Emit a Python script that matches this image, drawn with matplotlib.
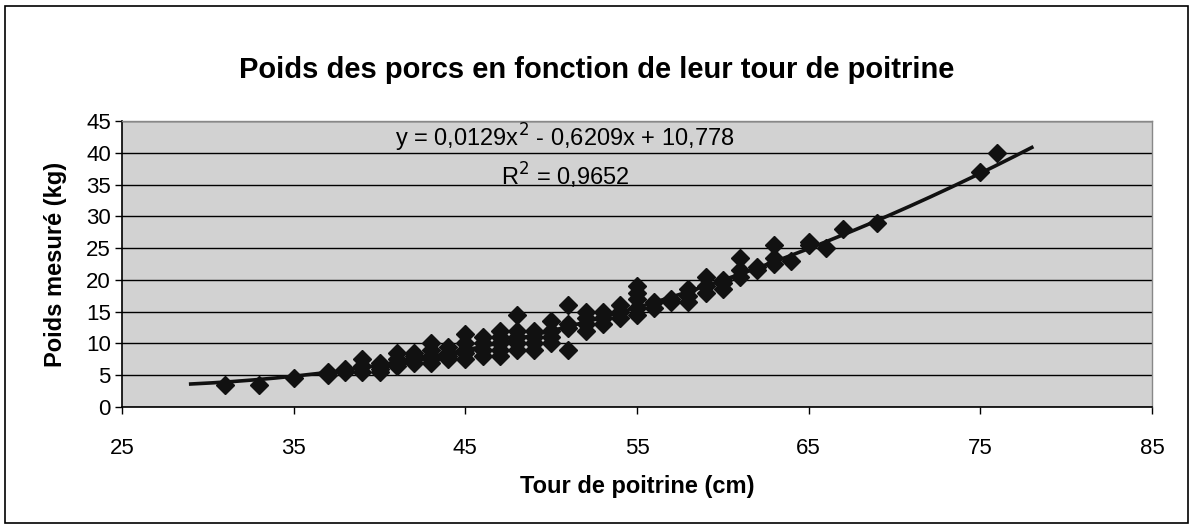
import numpy as np
import matplotlib
matplotlib.use("Agg")
import matplotlib.pyplot as plt
from matplotlib.patches import Rectangle

plt.rcParams['font.family'] = ['Liberation Sans', 'DejaVu Sans']

tour = [31, 33, 35, 37, 37, 38, 38, 39, 39, 39,
        40, 40, 40, 40, 41, 41, 41, 41, 42, 42, 42, 42,
        43, 43, 43, 43, 43, 44, 44, 44, 44,
        45, 45, 45, 45, 45, 46, 46, 46, 46,
        47, 47, 47, 47, 47, 48, 48, 48, 48, 48,
        49, 49, 49, 49, 50, 50, 50, 50,
        51, 51, 51, 51, 52, 52, 52, 52, 53, 53, 53,
        54, 54, 54, 55, 55, 55, 55, 55, 56, 56, 57, 57,
        58, 58, 58, 59, 59, 59, 60, 60, 60,
        61, 61, 61, 62, 62, 63, 63, 63, 64, 65, 65, 66,
        67, 69, 75, 76]
poids = [3.5, 3.5, 4.5, 5, 5.5, 5.5, 6, 5.5, 6.5, 7.5,
         5.5, 6, 6.5, 7, 6.5, 7, 7.5, 8.5, 7, 7.5, 8, 8.5,
         7, 7.5, 8, 9, 10, 7.5, 8, 8.5, 9.5,
         7.5, 8.5, 9, 10, 11.5, 8, 9, 10, 11,
         8, 9, 10, 11, 12, 9, 10, 11, 12, 14.5,
         9, 10, 11, 12, 10, 11, 12, 13.5,
         9, 12.5, 13, 16, 12, 13, 14, 15, 13, 14, 15,
         14, 15, 16, 14.5, 15.5, 17, 18, 19, 15.5, 16.5, 16.5, 17,
         16.5, 17.5, 18.5, 18, 19, 20.5, 18.5, 19.5, 20,
         20.5, 21.5, 23.5, 21.5, 22, 22.5, 23.5, 25.5, 23, 25.5, 26, 25,
         28, 29, 37, 40]

# courbe de tendance polynomiale (ordre 2) affichée sur le graphique
coef = [0.0129, -0.6209, 10.778]
x_tend = np.linspace(29, 78, 200)

fig = plt.figure(figsize=(11.93, 5.29), dpi=100)
fig.patch.set_facecolor('white')
fig.patches.append(Rectangle((0.004, 0.012), 0.992, 0.976, transform=fig.transFigure,
                             fill=False, edgecolor='black', linewidth=1.2))

ax = fig.add_axes([0.1023, 0.2306, 0.8633, 0.5407])
ax.set_facecolor('#d2d2d2')

ax.plot(x_tend, np.polyval(coef, x_tend), color='#111111', lw=2.6, zorder=3)
ax.plot(tour, poids, 'D', color='#111111', markersize=9.5, zorder=4)

ax.set_xlim(25, 85)
ax.set_ylim(0, 45)
ax.set_xticks(range(25, 86, 10))
ax.set_yticks(range(0, 46, 5))
ax.grid(axis='y', color='black', lw=1)
ax.set_axisbelow(True)

for s in ['left', 'bottom']:
    ax.spines[s].set_color('black')
    ax.spines[s].set_linewidth(1.2)
for s in ['top', 'right']:
    ax.spines[s].set_color('#888888')
    ax.spines[s].set_linewidth(1)

ax.tick_params(axis='both', labelsize=16, direction='out', length=5, width=1)
ax.tick_params(axis='x', pad=17)
ax.tick_params(axis='y', pad=3)

ax.set_xlabel('Tour de poitrine (cm)', fontsize=17, fontweight='bold', labelpad=12)
ax.set_ylabel('Poids mesuré (kg)', fontsize=17, fontweight='bold', labelpad=14)

fig.text(0.5, 0.868, 'Poids des porcs en fonction de leur tour de poitrine',
         ha='center', va='center', fontsize=21, fontweight='bold')

ax.text(50.8, 42.3, 'y = 0,0129x$^2$ - 0,6209x + 10,778', ha='center', va='center', fontsize=17)
ax.text(50.8, 36.4, 'R$^2$ = 0,9652', ha='center', va='center', fontsize=17)

fig.savefig('out.png', dpi=100)
